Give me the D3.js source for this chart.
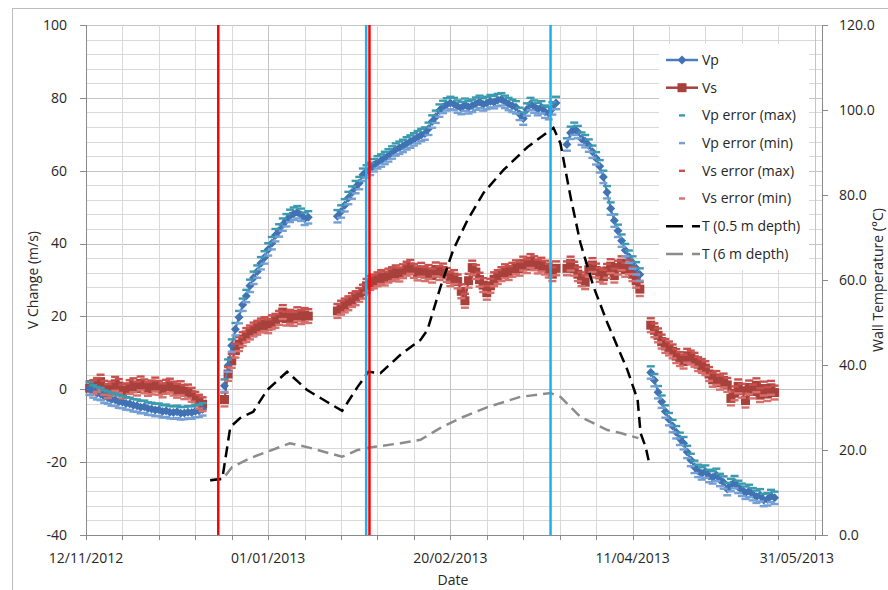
<!DOCTYPE html>
<html lang="en">
<head>
<meta charset="UTF-8">
<title>V Change and Wall Temperature</title>
<script src="https://d3js.org/d3.v7.min.js"></script>
<style>
  body { margin: 0; background: #fff; }
  svg { display: block; font-family: "Open Sans", sans-serif; }
</style>
</head>
<body>
<svg width="888" height="590"></svg>
<script>
// x positions are day offsets counted from 12/11/2012, one reading a day
const segStart = [1, 38, 69, 132, 155];

const vp = [
  [0.2, -0.6, -1.1, -1.3, -2.0, -2.3, -2.8, -2.9, -3.4, -3.5, -3.9, -4.0, -4.4, -4.5, -4.9, -4.8,
   -5.3, -5.4, -5.7, -5.6, -6.1, -5.9, -6.3, -6.4, -6.2, -6.6, -6.5, -6.3, -6.4, -6.0, -5.9, -5.5],
  [1.0, 6.5, 12.0, 16.5, 19.8, 23.2, 25.6, 28.4, 30.6, 32.3, 34.6, 36.2, 38.4, 40.1, 42.3, 43.6,
   45.2, 46.4, 47.6, 48.2, 48.6, 47.9, 46.8, 47.2],
  [47.5, 48.8, 50.5, 52.5, 54.0, 55.5, 56.6, 58.9, 59.8, 60.5, 61.5, 62.3, 62.8, 63.5, 64.2, 65.0,
   65.8, 66.3, 66.8, 67.5, 68.0, 68.6, 69.2, 69.8, 70.2, 71.5, 73.5, 74.8, 76.5, 77.5, 78.2, 78.6,
   78.3, 77.6, 77.2, 78.1, 77.4, 77.8, 78.4, 78.9, 78.2, 78.6, 79.1, 78.8, 79.4, 79.6, 78.9, 78.3,
   77.8, 77.4, 75.6, 74.3, 76.8, 78.3, 77.6, 76.9, 77.4, 76.2, 75.8, 77.1, 78.6],
  [67.2, 70.4, 71.5, 70.6, 68.8, 68.1, 66.9, 65.2, 63.4, 61.2, 58.3, 54.1, 49.6, 46.3, 43.5, 40.8,
   38.2, 36.4, 34.8, 33.2, 31.5],
  [4.6, 2.5, -0.8, -3.4, -6.1, -8.2, -10.1, -11.8, -13.6, -14.8, -17.2, -19.4, -21.3, -22.4, -23.1,
   -22.6, -23.8, -24.2, -23.5, -24.9, -25.6, -27.4, -26.3, -25.5, -26.8, -27.6, -28.4, -27.9, -28.8,
   -29.5, -29.1, -30.4, -30.2, -29.3, -29.8]
];

const vs = [
  [0.3, 0.6, 1.2, 2.1, 0.4, -0.5, 0.2, 1.5, 0.9, -0.6, -0.3, 0.6, 1.1, 0.2, 1.6, 0.8, 0.1, 0.5,
   1.3, 0.4, -0.3, 0.7, 1.0, 0.2, -0.4, 0.3, -0.8, -0.6, -1.5, -2.6, -3.4, -4.1],
  [-2.8, 4.2, 7.8, 10.6, 12.4, 13.8, 14.9, 15.6, 16.4, 16.9, 17.5, 17.9, 17.3, 18.4, 18.8, 19.6,
   21.2, 19.4, 19.9, 19.3, 20.6, 19.8, 20.4, 20.1],
  [21.5, 22.4, 23.0, 23.6, 24.5, 25.0, 25.9, 26.8, 28.4, 29.2, 29.6, 30.2, 30.8, 30.4, 31.2, 31.6,
   32.1, 31.5, 32.4, 33.1, 33.6, 32.5, 31.8, 32.8, 31.6, 32.2, 31.2, 32.9, 31.9, 32.6, 31.4, 30.2,
   30.8, 29.6, 26.9, 24.3, 29.8, 33.4, 32.2, 30.1, 28.6, 26.5, 28.4, 30.2, 30.8, 31.6, 32.4, 31.9,
   32.8, 33.5, 33.1, 34.5, 33.8, 35.2, 34.6, 33.7, 34.2, 33.4, 32.6, 31.6, 33.2],
  [33.2, 34.5, 33.1, 31.6, 30.2, 29.4, 32.8, 34.1, 32.6, 31.4, 30.9, 32.5, 33.8, 31.2, 33.4, 34.6,
   32.8, 33.5, 31.6, 29.8, 27.5],
  [17.6, 16.2, 14.8, 13.1, 11.9, 11.2, 10.4, 9.1, 8.3, 7.6, 9.2, 8.7, 8.1, 6.9, 6.4, 5.8, 4.2, 2.6,
   3.1, 1.8, 2.4, 1.2, -2.5, -1.1, 0.8, -0.4, -3.1, 0.5, -0.6, 1.1, -1.6, 0.2, -1.3, 0.4, -0.9]
];

const vpErr = 1.7;
const vsErr = 1.9;

const t05Days = [34.1, 37.4, 38.2, 39.6, 42.3, 45.9, 49.7, 55.2, 60.7, 66.2, 70.3, 74.5, 77.5, 80.8,
  86.3, 91.8, 93.7, 97.3, 100.8, 104.7, 109.1, 114.6, 121.2, 128.3, 130.2, 133.0, 135.7, 139.3,
  143.1, 148.6, 151.4, 152.2, 153.6, 154.4];
const t05 = [12.9, 13.2, 17.6, 25.4, 27.5, 29.0, 34.1, 38.4, 34.1, 31.3, 29.2, 34.8, 38.4, 38.1,
  42.4, 45.9, 48.2, 58.4, 67.1, 74.1, 80.5, 85.9, 91.3, 95.8, 92.2, 79.5, 68.7, 58.4,
  49.9, 38.8, 31.8, 24.0, 20.7, 17.6];

const t6Days = [34.1, 37.6, 40.1, 45.1, 56.0, 61.5, 70.3, 74.5, 78.8, 86.3, 91.8, 97.3, 103.0,
  110.2, 119.2, 127.5, 130.2, 135.7, 143.1, 146.7, 151.6];
const t6 = [12.9, 13.2, 16.0, 18.1, 21.6, 20.5, 18.4, 20.0, 20.7, 21.6, 22.4, 25.2, 27.6,
  30.1, 32.5, 33.4, 32.5, 27.8, 24.7, 24.0, 22.8];

const redLines = [36.3, 77.8];
const blueLines = [76.9, 127.5];

const vTicks = [-40, -20, 0, 20, 40, 60, 80, 100];
const tTicks = [0, 20, 40, 60, 80, 100, 120];
const dateTicks = ["12/11/2012", "01/01/2013", "20/02/2013", "11/04/2013", "31/05/2013"];
const legendNames = ["Vp", "Vs", "Vp error (max)", "Vp error (min)", "Vs error (max)",
  "Vs error (min)", "T (0.5 m depth)", "T (6 m depth)"];

const colors = {
  vp: "#4072b4", vpLine: "#4a7ebb", vs: "#a8403c",
  vpMax: "#3a9ab0", vpMin: "#74a0d6", vsMax: "#c9504c", vsMin: "#d86f6b",
  t05: "#000", t6: "#8c8c8c", red: "#ff0000", blue: "#1ab2ec"
};

const svg = d3.select("svg");
const parse = d3.utcParse("%d/%m/%Y");
const day0 = parse("12/11/2012");
const toDate = d => new Date(day0.getTime() + d * 864e5);

const pL = 86, pR = 822, pT = 25, pB = 535;
const x = d3.scaleUtc().domain([day0, parse("02/06/2013")]).range([pL, pR]);
const y = d3.scaleLinear().domain([-40, 100]).range([pB, pT]);
const y2 = d3.scaleLinear().domain([0, 120]).range([pB, pT]);

// outer chart border
svg.append("rect").attr("x", 12.5).attr("y", 8.5).attr("width", 900).attr("height", 600)
  .attr("fill", "none").attr("stroke", "#bdbdbd");

// gridlines
const grid = svg.append("g");
grid.selectAll("line.h").data(d3.range(-40, 101, 4)).join("line")
  .attr("x1", pL).attr("x2", pR)
  .attr("y1", d => Math.round(y(d)) + 0.5).attr("y2", d => Math.round(y(d)) + 0.5)
  .attr("stroke", d => d % 20 === 0 ? "#c4c4c4" : "#d9d9d9");
grid.selectAll("line.v").data(d3.range(0, 201, 10)).join("line")
  .attr("x1", d => Math.round(x(toDate(d))) + 0.5).attr("x2", d => Math.round(x(toDate(d))) + 0.5)
  .attr("y1", pT).attr("y2", pB)
  .attr("stroke", d => d % 50 === 0 ? "#c4c4c4" : "#d9d9d9");

// axes
const axes = svg.append("g").attr("stroke", "#8a8a8a");
axes.append("line").attr("x1", pL + 0.5).attr("x2", pL + 0.5).attr("y1", pT).attr("y2", pB);
axes.append("line").attr("x1", pR + 0.5).attr("x2", pR + 0.5).attr("y1", pT).attr("y2", pB);
axes.append("line").attr("x1", pL).attr("x2", pR).attr("y1", pB + 0.5).attr("y2", pB + 0.5);
axes.selectAll("line.tl").data(vTicks).join("line")
  .attr("x1", pL - 6).attr("x2", pL)
  .attr("y1", d => Math.round(y(d)) + 0.5).attr("y2", d => Math.round(y(d)) + 0.5);
axes.selectAll("line.tr").data(tTicks).join("line")
  .attr("x1", pR).attr("x2", pR + 6)
  .attr("y1", d => Math.round(y2(d)) + 0.5).attr("y2", d => Math.round(y2(d)) + 0.5);
axes.selectAll("line.tb").data(d3.range(0, 201, 10)).join("line")
  .attr("x1", d => Math.round(x(toDate(d))) + 0.5).attr("x2", d => Math.round(x(toDate(d))) + 0.5)
  .attr("y1", pB).attr("y2", pB + 5);

const labels = svg.append("g").attr("fill", "#262626").attr("font-size", 14);
labels.selectAll("text.yl").data(vTicks).join("text")
  .attr("x", 67).attr("y", d => y(d)).attr("dy", "0.35em").attr("text-anchor", "end").text(d => d);
labels.selectAll("text.yr").data(tTicks).join("text")
  .attr("x", 839).attr("y", d => y2(d)).attr("dy", "0.35em").text(d => d.toFixed(1));
// date labels, the last one is pulled back inside the chart area as in the original
labels.selectAll("text.xb").data(dateTicks).join("text")
  .attr("x", d => x(parse(d))).attr("y", 563).attr("text-anchor", "middle").text(d => d)
  .each(function () {
    const w = this.getComputedTextLength();
    const cx = +this.getAttribute("x");
    if (cx + w / 2 > 834) this.setAttribute("x", 834 - w / 2);
  });
labels.append("text").attr("x", 453).attr("y", 585).attr("text-anchor", "middle").text("Date");
labels.append("text").attr("transform", "translate(38,280) rotate(-90)")
  .attr("text-anchor", "middle").text("V Change (m/s)");
labels.append("text").attr("transform", "translate(883,280) rotate(-90)")
  .attr("text-anchor", "middle").text("Wall Temperature (°C)");

// series points
const segPts = series => series.map((seg, s) => seg.map((v, i) => ({ d: segStart[s] + i, v })));
const vpSegs = segPts(vp), vsSegs = segPts(vs);
const vpPts = vpSegs.flat(), vsPts = vsSegs.flat();
const line = d3.line().x(p => x(toDate(p.d))).y(p => y(p.v));

const plot = svg.append("g");

// Vs: line + squares
plot.selectAll("path.vs").data(vsSegs).join("path")
  .attr("fill", "none").attr("stroke", colors.vs).attr("stroke-width", 2).attr("d", line);
plot.selectAll("rect.vs").data(vsPts).join("rect")
  .attr("x", p => x(toDate(p.d)) - 4.5).attr("y", p => y(p.v) - 4.5)
  .attr("width", 9).attr("height", 9).attr("fill", colors.vs);

// Vp: line + diamonds
const vpG = plot.append("g");
vpG.selectAll("path.vp").data(vpSegs).join("path")
  .attr("fill", "none").attr("stroke", colors.vpLine).attr("stroke-width", 2).attr("d", line);
vpG.selectAll("path.dm").data(vpPts).join("path")
  .attr("transform", p => `translate(${x(toDate(p.d))},${y(p.v)})`)
  .attr("d", "M0,-4.5L4.5,0L0,4.5L-4.5,0Z").attr("fill", colors.vp);

// error dashes
const dash = (data, off, color) => plot.append("g").selectAll("rect").data(data).join("rect")
  .attr("x", p => x(toDate(p.d)) - 4).attr("y", p => y(p.v + off) - 1.2)
  .attr("width", 8).attr("height", 2.4).attr("fill", color);
dash(vsPts, vsErr, colors.vsMax);
dash(vsPts, -vsErr, colors.vsMin);
dash(vpPts, vpErr, colors.vpMax);
dash(vpPts, -vpErr, colors.vpMin);

// temperatures on the right axis
const tline = d3.line().x(p => x(toDate(p[0]))).y(p => y2(p[1]));
plot.append("path").datum(d3.zip(t6Days, t6)).attr("d", tline)
  .attr("fill", "none").attr("stroke", colors.t6).attr("stroke-width", 2.5)
  .attr("stroke-dasharray", "11,6");
plot.append("path").datum(d3.zip(t05Days, t05)).attr("d", tline)
  .attr("fill", "none").attr("stroke", colors.t05).attr("stroke-width", 2.5)
  .attr("stroke-dasharray", "11,6");

// event lines
const events = blueLines.map(d => [d, colors.blue]).concat(redLines.map(d => [d, colors.red]));
plot.append("g").selectAll("line").data(events).join("line")
  .attr("x1", e => x(toDate(e[0]))).attr("x2", e => x(toDate(e[0])))
  .attr("y1", pT).attr("y2", pB).attr("stroke", e => e[1]).attr("stroke-width", 2.5);

// legend
const lg = svg.append("g");
lg.append("rect").attr("x", 659).attr("y", 44).attr("width", 150).attr("height", 226).attr("fill", "#fff");
const items = legendNames.map((name, i) => {
  const g = lg.append("g").attr("transform", `translate(0,${60 + i * 27.7})`);
  g.append("text").attr("x", 702).attr("dy", "0.35em").attr("font-size", 14).attr("fill", "#262626")
    .text(name);
  return g;
});
items[0].append("line").attr("x1", 666).attr("x2", 698).attr("stroke", colors.vpLine).attr("stroke-width", 2.5);
items[0].append("path").attr("transform", "translate(682,0)").attr("d", "M0,-4.5L4.5,0L0,4.5L-4.5,0Z").attr("fill", colors.vp);
items[1].append("line").attr("x1", 666).attr("x2", 698).attr("stroke", colors.vs).attr("stroke-width", 2.5);
items[1].append("rect").attr("x", 677.5).attr("y", -4.5).attr("width", 9).attr("height", 9).attr("fill", colors.vs);
[colors.vpMax, colors.vpMin, colors.vsMax, colors.vsMin].forEach((c, k) =>
  items[k + 2].append("rect").attr("x", 679).attr("y", -1.2).attr("width", 6).attr("height", 2.4).attr("fill", c));
[colors.t05, colors.t6].forEach((c, k) =>
  items[k + 6].append("line").attr("x1", 666).attr("x2", 700).attr("stroke", c).attr("stroke-width", 2.5)
    .attr("stroke-dasharray", "17,9"));
</script>
</body>
</html>
